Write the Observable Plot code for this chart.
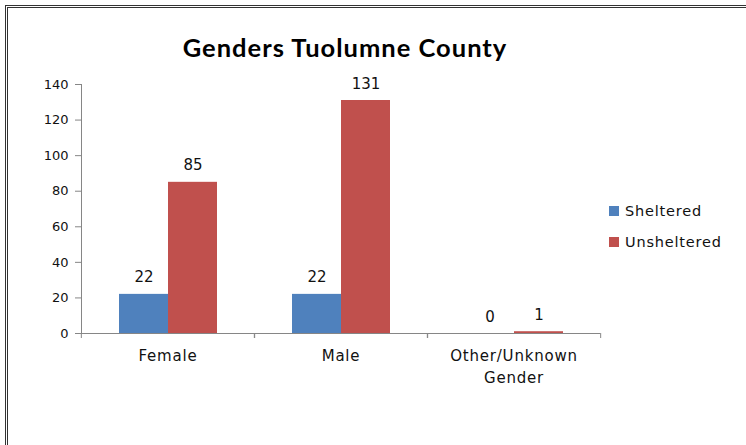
<!DOCTYPE html>
<html><head><meta charset="utf-8">
<script src="https://cdn.jsdelivr.net/npm/d3@7"></script>
<script src="https://cdn.jsdelivr.net/npm/@observablehq/plot@0.6"></script>
<style>
body{margin:0;background:#fff}
#wrap{position:relative;width:746px;height:445px;overflow:hidden;background:#fff}
#frame{position:absolute;left:5px;top:5px;width:800px;height:500px;border-top:3px double #333;border-left:3px double #333;pointer-events:none}
#title{position:absolute;left:0;width:690px;top:32px;text-align:center;font-family:Lato;font-weight:bold;font-size:25.5px;letter-spacing:1px;color:#000;line-height:30px}
#chart{position:absolute;left:0;top:0}
#chart g[aria-label="fx-axis tick label"] text{letter-spacing:0.8px}
#chart g[aria-label="y-axis tick label"] text{font-size:13px}
.leg{position:absolute;left:609px;font-family:"DejaVu Sans";font-size:14.5px;letter-spacing:0.8px;color:#111;line-height:16px}
.leg span{display:inline-block;width:10px;height:10px;margin-right:6px;vertical-align:0px}
</style>
</head><body>
<div id="wrap">
  <div id="chart"></div>
  <div id="title">Genders Tuolumne County</div>
  <div id="legend"></div>
  <div id="frame"></div>
</div>
<script>
const categories = ["Female", "Male", "Other/Unknown Gender"];
const categoryLabels = ["Female", "Male", "Other/Unknown\nGender"];
const series = ["Sheltered", "Unsheltered"];
const sheltered = [22, 22, 0];
const unsheltered = [85, 131, 1];
const yTicks = [0, 20, 40, 60, 80, 100, 120, 140];
const colors = ["#4F81BD", "#C0504D"];

const rows = [];
categories.forEach((c, i) => {
  rows.push({category: c, series: series[0], value: sheltered[i]});
  rows.push({category: c, series: series[1], value: unsheltered[i]});
});

const W = 746, H = 445, ML = 80, MR = 146, MT = 84, MB = 112;
const bandW = (W - ML - MR) / categories.length;
const labelOf = new Map(categories.map((c, i) => [c, categoryLabels[i]]));

const chart = Plot.plot({
  width: W, height: H,
  marginLeft: ML, marginRight: MR, marginTop: MT, marginBottom: MB,
  style: {fontFamily: "DejaVu Sans", fontSize: "13px", color: "#111", background: "transparent"},
  fx: {domain: categories, padding: 0, label: null},
  x: {domain: series, paddingInner: 0, paddingOuter: 0.76, axis: null},
  y: {domain: [0, 140], ticks: yTicks, label: null},
  color: {domain: series, range: colors},
  marks: [
    Plot.barY(rows, {fx: "category", x: "series", y: "value", fill: "series"}),
    Plot.text(rows, {fx: "category", x: "series", y: "value", text: d => String(d.value),
      lineAnchor: "bottom", dy: -12, fill: "#111", fontSize: 15}),
    Plot.ruleY([0], {stroke: "#868686", strokeWidth: 1}),
    Plot.axisY({ticks: yTicks, tickSize: 6, tickPadding: 7, stroke: "#868686", fill: "#111", label: null, fontSize: 13}),
    Plot.frame({anchor: "left", facetAnchor: "left", stroke: "#868686"}),
    Plot.axisFx({anchor: "bottom", tickSize: 0, tickPadding: 12, label: null, fontSize: 15,
      tickFormat: d => labelOf.get(d), lineHeight: 1.45, fill: "#111"}),
    Plot.axisFx({anchor: "bottom", tickSize: 5, tickFormat: () => "", label: null, stroke: "#868686", dx: -bandW / 2}),
    Plot.axisFx({anchor: "bottom", tickSize: 5, tickFormat: () => "", label: null, stroke: "#868686", dx: bandW / 2})
  ]
});
document.getElementById("chart").appendChild(chart);

const legend = document.getElementById("legend");
series.forEach((s, i) => {
  const d = document.createElement("div");
  d.className = "leg";
  d.style.top = (203 + i * 31) + "px";
  d.innerHTML = `<span style="background:${colors[i]}"></span>${s}`;
  legend.appendChild(d);
});
</script>
</body></html>
